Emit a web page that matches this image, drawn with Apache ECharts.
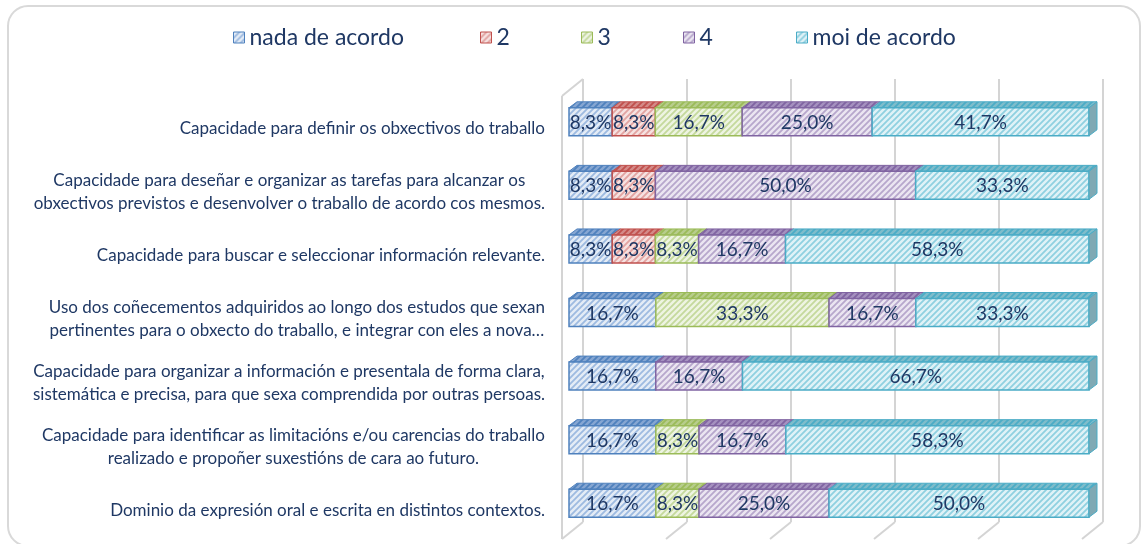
<!DOCTYPE html>
<html><head><meta charset="utf-8">
<script src="https://cdn.jsdelivr.net/npm/echarts@6/dist/echarts.min.js"></script>
<style>html,body{margin:0;padding:0;background:#fff}#c{width:1143px;height:544px}</style>
</head><body><div id="c"></div>
<script>
const categories = [
  'Capacidade para definir os obxectivos do traballo',
  'Capacidade para deseñar e organizar as tarefas para alcanzar os\nobxectivos previstos e desenvolver o traballo de acordo cos mesmos.',
  'Capacidade para buscar e seleccionar información relevante.',
  'Uso dos coñecementos adquiridos ao longo dos estudos que sexan\npertinentes para o obxecto do traballo, e integrar con eles a nova…',
  'Capacidade para organizar a información e presentala de forma clara,\nsistemática e precisa, para que sexa comprendida por outras persoas.',
  'Capacidade para identificar as limitacións e/ou carencias do traballo\nrealizado e propoñer suxestións de cara ao futuro.',
  'Dominio da expresión oral e escrita en distintos contextos.'
];
const seriesNames = ['nada de acordo', '2', '3', '4', 'moi de acordo'];
const nadaDeAcordo = [8.3, 8.3, 8.3, 16.7, 16.7, 16.7, 16.7];
const valor2 = [8.3, 8.3, 8.3, 0, 0, 0, 0];
const valor3 = [16.7, 0, 8.3, 33.3, 0, 8.3, 8.3];
const valor4 = [25.0, 50.0, 16.7, 16.7, 16.7, 16.7, 25.0];
const moiDeAcordo = [41.7, 33.3, 58.3, 33.3, 66.7, 58.3, 50.0];
const xTicks = [0, 20, 40, 60, 80, 100];

const allValues = [nadaDeAcordo, valor2, valor3, valor4, moiDeAcordo];
const palette = [
  {border: '#4F81BD', bg: '#e4ecf6', fg: '#9dbae0', top: '#86a6d2'},
  {border: '#C0504D', bg: '#f6e2e1', fg: '#e2a3a1', top: '#d48a88'},
  {border: '#9BBB59', bg: '#eef4e2', fg: '#c4d99c', top: '#b7cd8c'},
  {border: '#8064A2', bg: '#ebe6f1', fg: '#b7a7cc', top: '#a591bf'},
  {border: '#4BACC6', bg: '#e0f2f7', fg: '#8fd0e0', top: '#7fbccb'}
];
const TEXT = '#1F3864';
const FONT = 'Lato, "Noto Sans", sans-serif';

function hatch(bg, fg) {
  const s = 6, c = document.createElement('canvas');
  c.width = s; c.height = s;
  const g = c.getContext('2d');
  g.fillStyle = bg; g.fillRect(0, 0, s, s);
  g.strokeStyle = fg; g.lineWidth = 1.8;
  g.beginPath();
  g.moveTo(-1, s + 1); g.lineTo(s + 1, -1);
  g.moveTo(-1, 1); g.lineTo(1, -1);
  g.moveTo(s - 1, s + 1); g.lineTo(s + 1, s - 1);
  g.stroke();
  return {type: 'pattern', image: c, repeat: 'repeat'};
}
const patterns = palette.map(p => hatch(p.bg, p.fg));
const topPatterns = palette.map(p => hatch(p.top, p.border));

const rowSums = categories.map((_, i) => allValues.reduce((a, arr) => a + arr[i], 0));
function lastIndex(i) { let l = 0; allValues.forEach((arr, k) => { if (arr[i] > 0) l = k; }); return l; }
function fmt(v) { return v.toFixed(1).replace('.', ',') + '%'; }

const DX = 8, DY = 6;
function segRender(k) {
  return function (params, api) {
    const s = api.value(0), e = api.value(1), i = api.value(2), v = api.value(3);
    if (!(v > 0)) return null;
    const p0 = api.coord([s, i]), p1 = api.coord([e, i]);
    const h = api.size([0, 1])[1] * 0.44;
    const x0 = p0[0], x1 = p1[0], yT = p0[1] - h / 2, yB = p0[1] + h / 2;
    const c = palette[k];
    const children = [
      {type: 'polygon', shape: {points: [[x0, yT], [x0 + DX, yT - DY], [x1 + DX, yT - DY], [x1, yT]]},
        style: {fill: topPatterns[k], stroke: c.border, lineWidth: 1}},
      {type: 'rect', shape: {x: x0, y: yT, width: x1 - x0, height: yB - yT},
        style: {fill: patterns[k], stroke: c.border, lineWidth: 1.5}}
    ];
    if (lastIndex(i) === k) {
      children.push({type: 'polygon', shape: {points: [[x1, yT], [x1 + DX, yT - DY], [x1 + DX, yB - DY], [x1, yB]]},
        style: {fill: '#7fa9b4', stroke: c.border, lineWidth: 1}});
    }
    children.push({type: 'text', z2: 100, style: {text: fmt(v), x: (x0 + x1) / 2, y: (yT + yB) / 2 + 1,
      align: 'center', verticalAlign: 'middle', fill: TEXT, font: '19px ' + FONT}});
    return {type: 'group', children};
  };
}

const series = allValues.map((arr, k) => ({
  name: seriesNames[k], type: 'custom', xAxisIndex: 0, yAxisIndex: 0,
  itemStyle: {color: patterns[k], borderColor: palette[k].border, borderWidth: 1},
  renderItem: segRender(k),
  encode: {x: [0, 1], y: 2},
  data: arr.map((v, i) => {
    let start = 0; for (let j = 0; j < k; j++) start += allValues[j][i];
    const f = 100 / rowSums[i];
    return [start * f, (start + v) * f, i, v];
  })
}));

const CAT_FONT = '17px ' + FONT;
const mctx = document.createElement('canvas').getContext('2d');
mctx.font = CAT_FONT;
const catWidths = categories.map(t => Math.max(...t.split('\n').map(l => mctx.measureText(l).width)));
series.push({
  type: 'custom', xAxisIndex: 0, yAxisIndex: 0, silent: true,
  data: categories.map((c, i) => [0, i]),
  encode: {x: 0, y: 1},
  renderItem: function (params, api) {
    const i = api.value(1);
    const p = api.coord([0, i]);
    const right = p[0] - 24;
    return {type: 'text', style: {text: categories[i], x: right - catWidths[i] / 2, y: p[1] + 7,
      align: 'center', verticalAlign: 'middle', fill: TEXT, font: CAT_FONT, lineHeight: 23}};
  }
});

const WX = 21, WY = 17;
series.push({
  type: 'custom', xAxisIndex: 1, yAxisIndex: 1, silent: true, z: 1,
  data: xTicks.map(t => [t, 0]),
  encode: {x: 0, y: 1},
  renderItem: function (params, api) {
    const t = api.value(0);
    const pb = api.coord([t, 0]);
    const pt = api.coord([t, 1]);
    const ls = {stroke: '#d4d4d4', lineWidth: 2, fill: 'none'};
    const children = [{type: 'line', shape: {x1: pb[0], y1: pb[1], x2: pb[0] - WX, y2: pb[1] + WY}, style: ls}];
    if (t === 0) {
      children.push({type: 'line', shape: {x1: pt[0], y1: pt[1], x2: pt[0] - WX, y2: pt[1] + WY}, style: ls});
      children.push({type: 'line', shape: {x1: pt[0] - WX, y1: pt[1] + WY, x2: pb[0] - WX, y2: pb[1] + WY}, style: ls});
    }
    return {type: 'group', children};
  }
});

const legendX = [233, 480, 581, 683, 796];
const legends = seriesNames.map((n, k) => ({
  left: legendX[k], top: 26, padding: 0, icon: 'rect', itemWidth: 11, itemHeight: 11,
  selectedMode: false,
  textStyle: {color: TEXT, fontSize: 23, fontFamily: FONT},
  data: [{name: n, itemStyle: {color: patterns[k], borderColor: palette[k].border, borderWidth: 1}}]
}));

const chart = echarts.init(document.getElementById('c'), null, {renderer: 'canvas'});
chart.setOption({
  animation: false,
  backgroundColor: '#ffffff',
  legend: legends,
  grid: [
    {left: 569, right: 54, top: 90, bottom: 9},
    {left: 583, right: 40, top: 79, bottom: 22}
  ],
  xAxis: [
    {type: 'value', gridIndex: 0, min: 0, max: 100, interval: 20, show: false},
    {type: 'value', gridIndex: 1, min: 0, max: 100, interval: 20,
      axisLine: {show: false}, axisTick: {show: false}, axisLabel: {show: false},
      splitLine: {show: true, lineStyle: {color: '#d4d4d4', width: 2}}}
  ],
  yAxis: [
    {type: 'category', gridIndex: 0, data: categories, inverse: true, show: false},
    {type: 'value', gridIndex: 1, min: 0, max: 1, show: false}
  ],
  graphic: [{type: 'rect', z: -1, shape: {x: 8, y: 6, width: 1132, height: 540, r: 20},
    style: {fill: 'none', stroke: '#d9d9d9', lineWidth: 2}}],
  series: series
});
</script></body></html>
